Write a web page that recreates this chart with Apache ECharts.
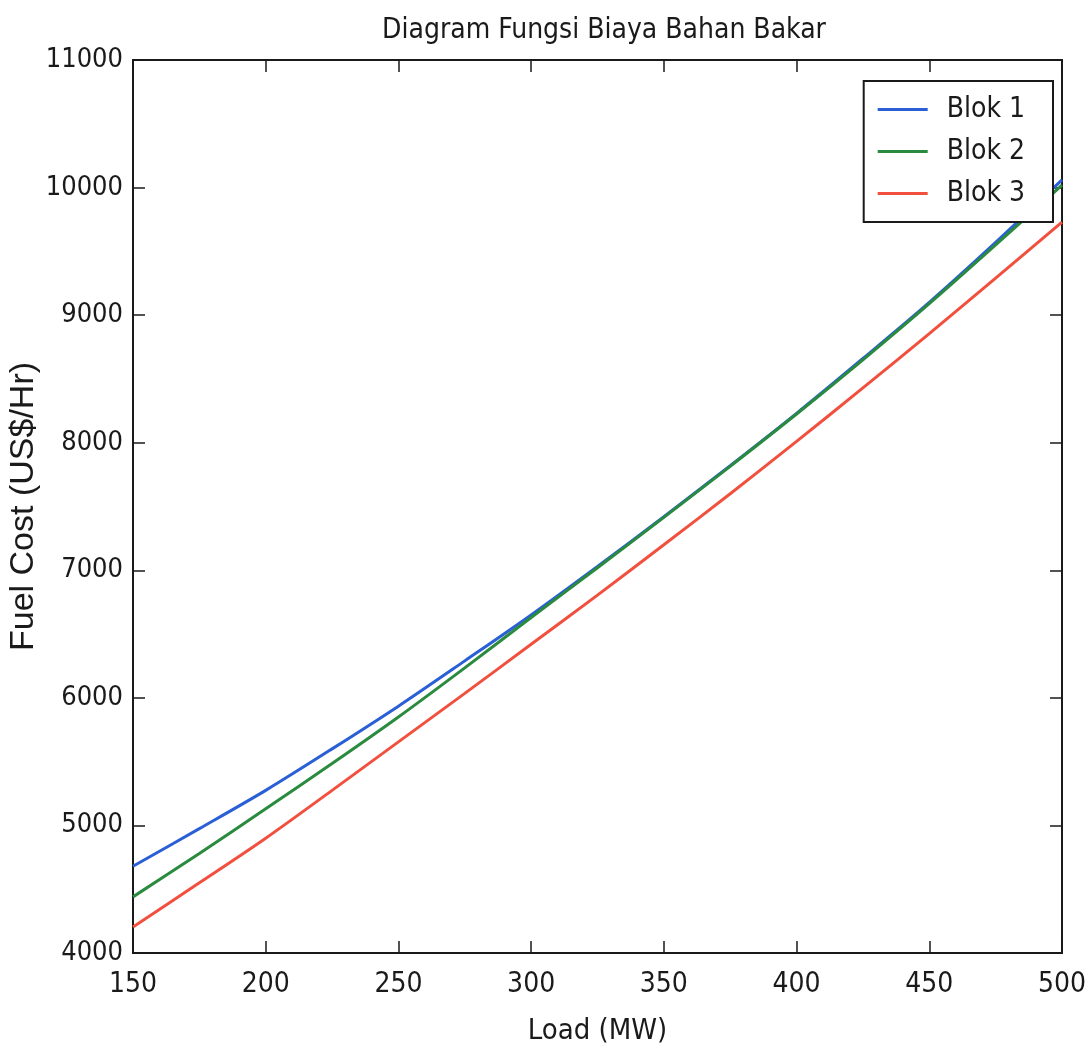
<!DOCTYPE html>
<html>
<head>
<meta charset="utf-8">
<title>Diagram Fungsi Biaya Bahan Bakar</title>
<script src="https://cdn.jsdelivr.net/npm/echarts@6/dist/echarts.min.js"></script>
<style>
  html, body { margin: 0; padding: 0; background: #fff; }
  #chart { width: 1089px; height: 1053px; }
</style>
</head>
<body>
<div id="chart"></div>
<script>
// values (US$/Hr)
const loadMW = [150, 175, 200, 225, 250, 275, 300, 325, 350, 375, 400, 425, 450, 475, 500]
const blok1 = [4680, 4975, 5275, 5600, 5935, 6290, 6650, 7030, 7420, 7820, 8230, 8660, 9100, 9570, 10060]
const blok2 = [4440, 4780, 5130, 5485, 5850, 6235, 6630, 7020, 7415, 7815, 8225, 8650, 9090, 9550, 10020]
const blok3 = [4204, 4550, 4900, 5275, 5655, 6035, 6420, 6805, 7200, 7600, 8010, 8430, 8855, 9290, 9729]
const seriesNames = ['Blok 1', 'Blok 2', 'Blok 3']
const seriesColors = ['#2a5fd6', '#2a8a3e', '#f2503f']

const FONT = "'DejaVu Sans Condensed', 'Liberation Sans', sans-serif"
const INK = '#1a1a1a'

const pairs = ys => loadMW.map((x, i) => [x, ys[i]])

const chart = echarts.init(document.getElementById('chart'), null, { renderer: 'canvas' })

const hiddenAxis = {
  axisLine: { show: false },
  axisLabel: { show: false },
  splitLine: { show: false },
}

chart.setOption({
  animation: false,
  backgroundColor: '#fff',
  title: {
    text: 'Diagram Fungsi Biaya Bahan Bakar',
    left: 599,
    textAlign: 'center',
    top: 12,
    textStyle: { fontFamily: FONT, fontSize: 28, fontWeight: 'normal', color: INK },
  },
  grid: {
    left: 133,
    right: 27,
    top: 60,
    bottom: 100,
    outerBoundsMode: 'none',
    containLabel: false,
    show: true,
    borderColor: INK,
    borderWidth: 2,
  },
  legend: {
    orient: 'vertical',
    right: 36,
    top: 81,
    align: 'left',
    icon: 'rect',
    itemWidth: 50,
    itemHeight: 3,
    itemGap: 9,
    padding: [12, 28, 12, 14],
    borderColor: INK,
    borderWidth: 2,
    backgroundColor: '#fff',
    textStyle: { fontFamily: FONT, fontSize: 28, lineHeight: 33, color: INK, padding: [0, 0, 0, 14] },
    data: seriesNames,
  },
  xAxis: [
    {
      type: 'value',
      min: 150,
      max: 500,
      interval: 50,
      name: 'Load (MW)',
      nameLocation: 'middle',
      nameGap: 64,
      nameTextStyle: { fontFamily: FONT, fontSize: 29, color: INK },
      axisLine: { show: true, lineStyle: { color: INK, width: 2 } },
      axisTick: { show: true, inside: true, length: 12, lineStyle: { color: INK, width: 1.5 } },
      axisLabel: { fontFamily: FONT, fontSize: 28, color: INK, margin: 18 },
      splitLine: { show: false },
    },
    {
      type: 'value',
      position: 'top',
      min: 150,
      max: 500,
      interval: 50,
      axisTick: { show: true, inside: true, length: 12, lineStyle: { color: INK, width: 1.5 } },
      ...hiddenAxis,
    },
  ],
  yAxis: [
    {
      type: 'value',
      min: 4000,
      max: 11000,
      interval: 1000,
      name: 'Fuel Cost (US$/Hr)',
      nameLocation: 'middle',
      nameGap: 92,
      nameMoveOverlap: false,
      nameTextStyle: { fontFamily: "'Liberation Sans', Arial, sans-serif", fontSize: 34, color: INK },
      axisLine: { show: true, lineStyle: { color: INK, width: 2 } },
      axisTick: { show: true, inside: true, length: 12, lineStyle: { color: INK, width: 1.5 } },
      axisLabel: { fontFamily: FONT, fontSize: 27, color: INK, margin: 10, formatter: v => String(v) },
      splitLine: { show: false },
    },
    {
      type: 'value',
      position: 'right',
      min: 4000,
      max: 11000,
      interval: 1000,
      axisTick: { show: true, inside: true, length: 12, lineStyle: { color: INK, width: 1.5 } },
      ...hiddenAxis,
    },
  ],
  series: [blok1, blok2, blok3].map((ys, i) => ({
    name: seriesNames[i],
    type: 'line',
    xAxisIndex: 0,
    yAxisIndex: 0,
    data: pairs(ys),
    symbol: 'none',
    smooth: 0.3,
    lineStyle: { color: seriesColors[i], width: 3 },
    itemStyle: { color: seriesColors[i] },
  })),
})
</script>
</body>
</html>
